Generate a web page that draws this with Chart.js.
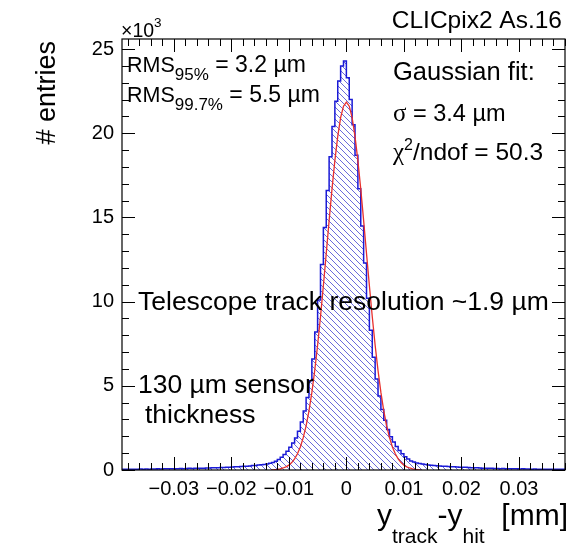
<!DOCTYPE html>
<html>
<head>
<meta charset="utf-8">
<script src="https://cdn.jsdelivr.net/npm/chart.js@4.4.1/dist/chart.umd.min.js"></script>
<style>
  html, body { margin: 0; padding: 0; background: #fff; }
  #wrap { width: 572px; height: 547px; }
</style>
</head>
<body>
<div id="wrap"><canvas id="c" width="572" height="547"></canvas></div>
<script>
// residual histogram, entries in thousands, 0.5 um bins from -0.039 mm
var histMin = -0.039;
var binWidth = 0.0005;
var histCounts = [
  0.05, 0.05, 0.04, 0.05, 0.05, 0.04, 0.05, 0.06, 0.05, 0.06,
  0.05, 0.06, 0.06, 0.07, 0.06, 0.07, 0.07, 0.08, 0.07, 0.08,
  0.08, 0.09, 0.08, 0.09, 0.10, 0.09, 0.10, 0.11, 0.10, 0.11,
  0.12, 0.12, 0.13, 0.13, 0.14, 0.15, 0.15, 0.16, 0.17, 0.18,
  0.19, 0.20, 0.21, 0.22, 0.23, 0.24, 0.26, 0.27,
  0.29, 0.31, 0.33, 0.36, 0.40, 0.45, 0.52, 0.62, 0.76, 0.92,
  1.12, 1.35, 1.60, 1.90, 2.30, 2.85, 3.50, 4.30, 5.30, 6.60,
  8.20, 10.1, 12.2, 14.4, 16.6, 18.6, 20.4, 21.9, 23.1, 24.0,
  24.3, 23.3, 22.0, 20.5, 18.7, 16.7, 14.5, 12.3, 10.2, 8.3,
  6.7, 5.4, 4.4, 3.6, 2.95, 2.40, 1.98, 1.66, 1.40, 1.16,
  0.96, 0.79, 0.65, 0.54, 0.47, 0.42, 0.38, 0.35, 0.32, 0.30,
  0.28, 0.27, 0.25, 0.24, 0.23, 0.22, 0.21, 0.20, 0.19, 0.18,
  0.17, 0.16, 0.16, 0.15, 0.14, 0.13, 0.13, 0.12, 0.11, 0.11,
  0.10, 0.10, 0.09, 0.09, 0.08, 0.09, 0.08, 0.07, 0.08, 0.07,
  0.07, 0.06, 0.07, 0.06, 0.06, 0.05, 0.06, 0.05, 0.05, 0.05,
  0.04, 0.05, 0.05, 0.04, 0.05, 0.04
];

// gaussian fit curve as drawn (thousands), sampled every 0.5 um from -0.013 mm
var fitStart = -0.013;
var fitStep = 0.0005;
var fitValues = [
  0.01, 0.02, 0.04, 0.07, 0.12, 0.19, 0.29, 0.44, 0.66, 0.96,
  1.37, 1.92, 2.62, 3.51, 4.61, 5.91, 7.41, 9.10, 10.94, 12.86,
  14.81, 16.68, 18.38, 19.82, 20.93, 21.61, 21.85, 21.61, 20.93, 19.82,
  18.38, 16.68, 14.81, 12.86, 10.94, 9.10, 7.41, 5.91, 4.61, 3.51,
  2.62, 1.92, 1.37, 0.96, 0.66, 0.44, 0.29, 0.19, 0.12, 0.07,
  0.04, 0.02, 0.01
];

var xTickValues = [-0.03, -0.02, -0.01, 0, 0.01, 0.02, 0.03];
var yTickValues = [0, 5, 10, 15, 20, 25];
var xMin = -0.039, xMax = 0.038;
var yMin = 0, yMax = 25.6;

var FONT = '"Liberation Sans", Arial, Helvetica, sans-serif';
var SERIF = '"Liberation Serif", "Times New Roman", serif';

var canvas = document.getElementById("c");
var ctx = canvas.getContext("2d");

function makeHatch() {
  var s = 6;
  var c = document.createElement("canvas");
  c.width = s;
  c.height = s;
  var g = c.getContext("2d");
  g.strokeStyle = "rgba(70,70,210,0.8)";
  g.lineWidth = 1;
  g.beginPath();
  g.moveTo(-1, -1); g.lineTo(s + 1, s + 1);
  g.moveTo(s - 1, -1); g.lineTo(s + 1, 1);
  g.moveTo(-1, s - 1); g.lineTo(1, s + 1);
  g.stroke();
  return ctx.createPattern(c, "repeat");
}

var histPoints = histCounts.map(function (v, i) {
  return { x: histMin + i * binWidth, y: v };
});
histPoints.push({
  x: histMin + histCounts.length * binWidth,
  y: histCounts[histCounts.length - 1]
});

var fitPoints = fitValues.map(function (v, i) {
  return { x: fitStart + i * fitStep, y: v };
});

function fmtX(v) {
  if (Math.abs(v) < 1e-9) return "0";
  var s = Math.abs(v).toFixed(2);
  return v < 0 ? "\u2212" + s : s;
}

function rich(c, x, y, parts) {
  parts.forEach(function (p) {
    c.font = p[1] + "px " + (p[3] || FONT);
    c.fillText(p[0], x, y + (p[2] || 0));
    x += c.measureText(p[0]).width;
  });
  return x;
}

var frameAndText = {
  id: "frameAndText",
  afterDatasetsDraw: function (chart) {
    var c = chart.ctx;
    var a = chart.chartArea;
    var xs = chart.scales.x, ys = chart.scales.y;
    c.save();
    c.strokeStyle = "#000";
    c.lineWidth = 1.2;
    c.strokeRect(a.left, a.top, a.right - a.left, a.bottom - a.top);

    c.lineWidth = 1;
    c.beginPath();
    var k, v, px, len;
    for (k = Math.ceil(xMin / 0.002 - 1e-6); k <= Math.floor(xMax / 0.002 + 1e-6); k++) {
      v = k * 0.002;
      px = Math.round(xs.getPixelForValue(v)) + 0.5;
      len = (k % 5 === 0) ? 13 : 7;
      c.moveTo(px, a.bottom); c.lineTo(px, a.bottom - len);
      c.moveTo(px, a.top); c.lineTo(px, a.top + len);
    }
    for (k = 0; k <= Math.floor(yMax); k++) {
      px = Math.round(ys.getPixelForValue(k)) + 0.5;
      len = (k % 5 === 0) ? 13 : 7;
      c.moveTo(a.left, px); c.lineTo(a.left + len, px);
      c.moveTo(a.right, px); c.lineTo(a.right - len, px);
    }
    c.stroke();

    c.fillStyle = "#000";
    c.textBaseline = "alphabetic";
    c.textAlign = "left";

    // x10^3
    rich(c, 121, 37, [["\u00d710", 19.5], ["3", 13.5, -10]]);

    // top right label
    c.textAlign = "right";
    c.font = "24.5px " + FONT;
    c.fillText("CLICpix2 As.16", 562, 28);
    c.textAlign = "left";

    // RMS block
    rich(c, 127, 72, [["RMS", 21.5], ["95%", 17, 8], [" = 3.2 \u00b5m", 23]]);
    rich(c, 127, 102, [["RMS", 21.5], ["99.7%", 17, 8], [" = 5.5 \u00b5m", 23]]);

    // fit block
    rich(c, 393, 80, [["Gaussian fit:", 25.5]]);
    rich(c, 393, 121, [["\u03c3", 25, 0, SERIF], [" = 3.4 \u00b5m", 23.5]]);
    rich(c, 393, 160, [["\u03c7", 25, 0, SERIF], ["2", 16, -10], ["/ndof = 50.3", 24.5]]);

    // annotations
    c.font = "26.5px " + FONT;
    c.fillText("Telescope track resolution ~1.9 \u00b5m", 138, 310);
    c.fillText("130 \u00b5m sensor", 138, 393);
    c.fillText("thickness", 145, 423);

    // x title
    rich(c, 377, 525, [["y", 30], ["track", 21, 18], ["-y", 30], ["hit", 21, 18], ["  [mm]", 30]]);

    // y title
    c.save();
    c.translate(55, 41);
    c.rotate(-Math.PI / 2);
    c.textAlign = "right";
    c.font = "27px " + FONT;
    c.fillText("# entries", 0, 0);
    c.restore();

    c.restore();
  }
};

new Chart(ctx, {
  type: "line",
  data: {
    datasets: [
      {
        label: "fit",
        data: fitPoints,
        borderColor: "#e8302c",
        borderWidth: 1.3,
        pointRadius: 0,
        fill: false,
        order: 0
      },
      {
        label: "residuals",
        data: histPoints,
        stepped: "after",
        borderColor: "#1a1ad6",
        borderWidth: 1.5,
        backgroundColor: makeHatch(),
        pointRadius: 0,
        fill: "origin",
        order: 1
      }
    ]
  },
  options: {
    responsive: false,
    animation: false,
    devicePixelRatio: 1,
    events: [],
    layout: { padding: { left: 0, top: 39, right: 7, bottom: 0 } },
    plugins: { legend: { display: false }, tooltip: { enabled: false } },
    scales: {
      x: {
        type: "linear",
        min: xMin,
        max: xMax,
        grid: { display: false, drawTicks: false },
        border: { display: false },
        afterBuildTicks: function (s) {
          s.ticks = xTickValues.map(function (v) { return { value: v }; });
        },
        afterFit: function (s) { s.height = 77; },
        ticks: {
          padding: 7,
          maxRotation: 0,
          color: "#000",
          font: { family: FONT, size: 20 },
          callback: function (v) { return fmtX(v); }
        }
      },
      y: {
        type: "linear",
        min: yMin,
        max: yMax,
        grid: { display: false, drawTicks: false },
        border: { display: false },
        afterBuildTicks: function (s) {
          s.ticks = yTickValues.map(function (v) { return { value: v }; });
        },
        afterFit: function (s) { s.width = 122; },
        ticks: {
          padding: 8,
          color: "#000",
          font: { family: FONT, size: 20 },
          callback: function (v) { return String(v); }
        }
      }
    }
  },
  plugins: [frameAndText]
});
</script>
</body>
</html>
